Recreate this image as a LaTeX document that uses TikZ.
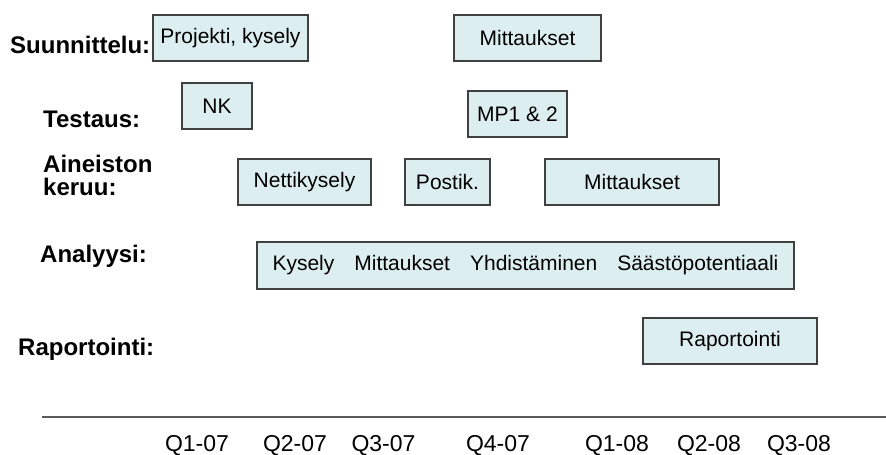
\documentclass[tikz,border=0pt]{standalone}
\usepackage{fontspec}
\setmainfont{Liberation Sans}
\usetikzlibrary{positioning}
\definecolor{boxfill}{RGB}{221,238,240}
\definecolor{boxline}{RGB}{64,64,64}
\definecolor{axisline}{RGB}{90,90,90}
\begin{document}
\begin{tikzpicture}[x=1pt,y=-1pt]

					\tikzstyle{phase} = [
						draw=boxline,
						line width=1.3pt,
						fill=boxfill,
						inner sep=0pt,
						minimum height=46pt,
						font=\fontsize{21}{25}\selectfont
					]
					\tikzstyle{rowlabel} = [
						anchor=base west,
						inner sep=0pt,
						align=left,
						font=\fontsize{24}{23}\selectfont\bfseries
					]
					\tikzstyle{quarter} = [
						anchor=base,
						inner sep=0pt,
						text depth=0pt,
						font=\fontsize{23}{27}\selectfont
					]

					\useasboundingbox (0,0) rectangle (886,455);

					\node (suun) [style=rowlabel] at (10,53) {Suunnittelu:};
					\node (test) [style=rowlabel] at (43,127) {Testaus:};
					\node (keruu) [style=rowlabel] at (43,195) {Aineiston\\keruu:};
					\node (anal) [style=rowlabel] at (40,262) {Analyysi:};
					\node (rap) [style=rowlabel] at (18,355) {Raportointi:};

					\node (projekti) [style=phase, minimum width=155pt] at (230.5,38) {Projekti, kysely};
					\node (mittA) [style=phase, minimum width=147pt] at (527.5,38) {Mittaukset};
					\node (nk) [style=phase, minimum width=70pt] at (217,106) {NK};
					\node (mp) [style=phase, minimum width=99pt] at (517.5,114) {MP1 \& 2};
					\node (netti) [style=phase, minimum width=133pt] at (304.5,182) {Nettikysely};
					\node (posti) [style=phase, minimum width=85pt] at (447.5,182) {Postik.};
					\node (mittB) [style=phase, minimum width=174pt] at (632,182) {Mittaukset};
					\node (analyysi) [style=phase, minimum width=537pt, minimum height=47pt] at (525.5,265.5) {Kysely\hspace{20pt}Mittaukset\hspace{20pt}Yhdistäminen\hspace{20pt}Säästöpotentiaali};
					\node (raportti) [style=phase, minimum width=174pt] at (730,341) {Raportointi};

					\coordinate (axisL) at (42,417);
					\coordinate (axisR) at (886,417);
					\draw [axisline, line width=1.5pt] (axisL) -- (axisR);

					\node (q107) [style=quarter] at (197,451) {Q1-07};
					\node (q207) [style=quarter] at (295,451) {Q2-07};
					\node (q307) [style=quarter] at (383.5,451) {Q3-07};
					\node (q407) [style=quarter] at (498,451) {Q4-07};
					\node (q108) [style=quarter] at (617,451) {Q1-08};
					\node (q208) [style=quarter] at (709,451) {Q2-08};
					\node (q308) [style=quarter] at (799,451) {Q3-08};

				\end{tikzpicture}
\end{document}
